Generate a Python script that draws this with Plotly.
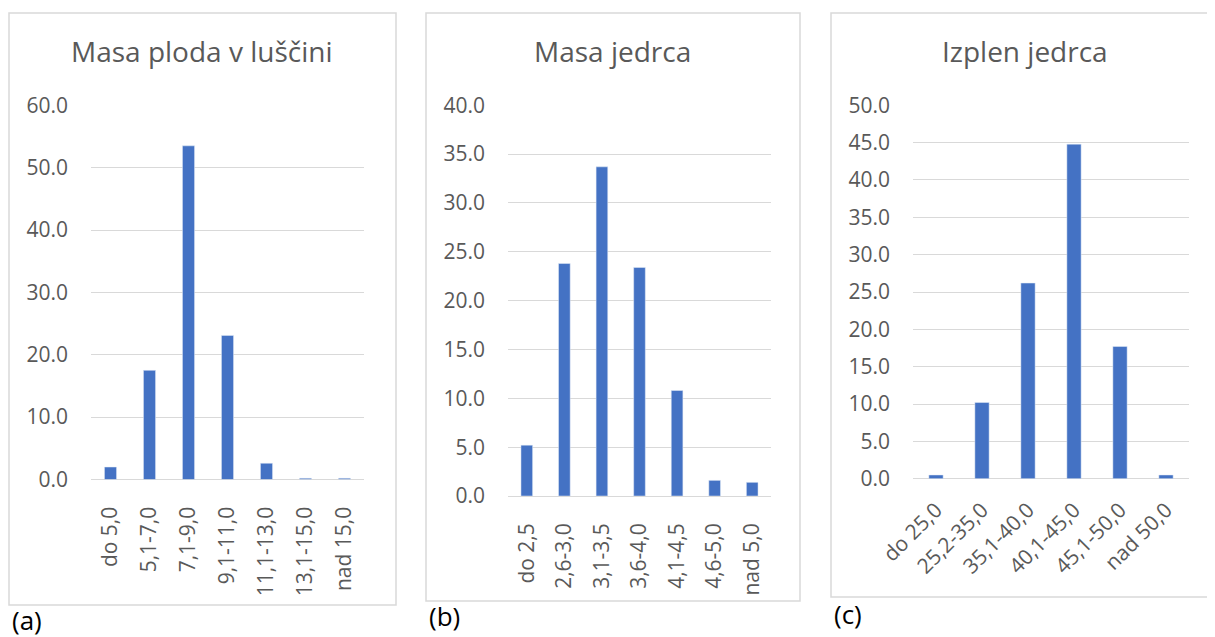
import plotly.graph_objects as go

# page is 1215x637; the html body has an 8px default margin
PAGE_W, PAGE_H = 1215, 637
OFF = 8
W, H = PAGE_W - OFF, PAGE_H - OFF

# ---- data ----
cats_a = ["do 5,0", "5,1-7,0", "7,1-9,0", "9,1-11,0", "11,1-13,0", "13,1-15,0", "nad 15,0"]
vals_a = [2.0, 17.5, 53.5, 23.1, 2.6, 0.2, 0.2]

cats_b = ["do 2,5", "2,6-3,0", "3,1-3,5", "3,6-4,0", "4,1-4,5", "4,6-5,0", "nad 5,0"]
vals_b = [5.2, 23.8, 33.7, 23.4, 10.8, 1.6, 1.4]

cats_c = ["do 25,0", "25,2-35,0", "35,1-40,0", "40,1-45,0", "45,1-50,0", "nad 50,0"]
vals_c = [0.5, 10.2, 26.2, 44.8, 17.7, 0.5]

titles = ["Masa ploda v luščini", "Masa jedrca", "Izplen jedrca"]
panel_labels = ["(a)", "(b)", "(c)"]

BAR = "#4472C4"
GRID = "#d9d9d9"
TXT = "#595959"
FONT = "Open Sans"


def px_x(p):
    return (p - OFF) / W


def px_y(p):
    return (PAGE_H - p) / H


fig = go.Figure()
fig.add_trace(go.Bar(x=cats_a, y=vals_a, marker_color=BAR, xaxis="x", yaxis="y", showlegend=False))
fig.add_trace(go.Bar(x=cats_b, y=vals_b, marker_color=BAR, xaxis="x2", yaxis="y2", showlegend=False))
fig.add_trace(go.Bar(x=cats_c, y=vals_c, marker_color=BAR, xaxis="x3", yaxis="y3", showlegend=False))

panels = [
    dict(xd=(91, 364), yb=479.5, yt=105.3, ymax=60, dt=10, ang=-90, xs=22),
    dict(xd=(508, 771), yb=496, yt=105.3, ymax=40, dt=5, ang=-90, xs=22),
    dict(xd=(913, 1189), yb=478.7, yt=105.3, ymax=50, dt=5, ang=-45, xs=14),
]

layout = dict(
    width=W, height=H,
    margin=dict(l=0, r=0, t=0, b=0, pad=0, autoexpand=False),
    paper_bgcolor="white", plot_bgcolor="white",
    bargap=0.69,
    font=dict(family=FONT, color=TXT),
)
for i, p in enumerate(panels):
    sfx = "" if i == 0 else str(i + 1)
    layout["xaxis" + sfx] = dict(
        domain=[px_x(p["xd"][0]), px_x(p["xd"][1])],
        anchor="y" + sfx, type="category", automargin=False,
        showgrid=False, showline=False, zeroline=False,
        tickangle=p["ang"], tickfont=dict(size=21, color=TXT, family=FONT),
        ticks="", ticklabelstandoff=p["xs"],
    )
    layout["yaxis" + sfx] = dict(
        domain=[px_y(p["yb"]), px_y(p["yt"])],
        anchor="x" + sfx, range=[0, p["ymax"]], dtick=p["dt"], automargin=False,
        tickformat=".1f", showgrid=True, gridcolor=GRID, gridwidth=1,
        zeroline=True, zerolinecolor=GRID, zerolinewidth=1, showline=False,
        tickfont=dict(size=21, color=TXT, family=FONT), ticks="",
        ticklabelstandoff=22,
    )

fig.update_layout(**layout)

# boxes
boxes = [(9, 13, 396, 605), (426, 13, 800, 601), (831, 13, 1217, 597)]
for (x0, y0, x1, y1) in boxes:
    fig.add_shape(type="rect", xref="paper", yref="paper",
                  x0=px_x(x0), x1=px_x(x1), y0=px_y(y1), y1=px_y(y0),
                  line=dict(color=GRID, width=1.5), fillcolor="rgba(0,0,0,0)", layer="below")

# titles
title_x = [202, 612.5, 1024.5]
for t, x in zip(titles, title_x):
    fig.add_annotation(text=t, xref="paper", yref="paper", x=px_x(x), y=px_y(51),
                       xanchor="center", yanchor="middle", showarrow=False,
                       font=dict(size=28, color=TXT, family=FONT))

# panel labels
lab_pos = [(10, 620), (427, 616), (832, 614)]
for t, (x, y) in zip(panel_labels, lab_pos):
    fig.add_annotation(text=t, xref="paper", yref="paper", x=px_x(x), y=px_y(y),
                       xanchor="left", yanchor="middle", showarrow=False,
                       font=dict(size=26, color="black", family=FONT))

fig.write_html("out.html")
